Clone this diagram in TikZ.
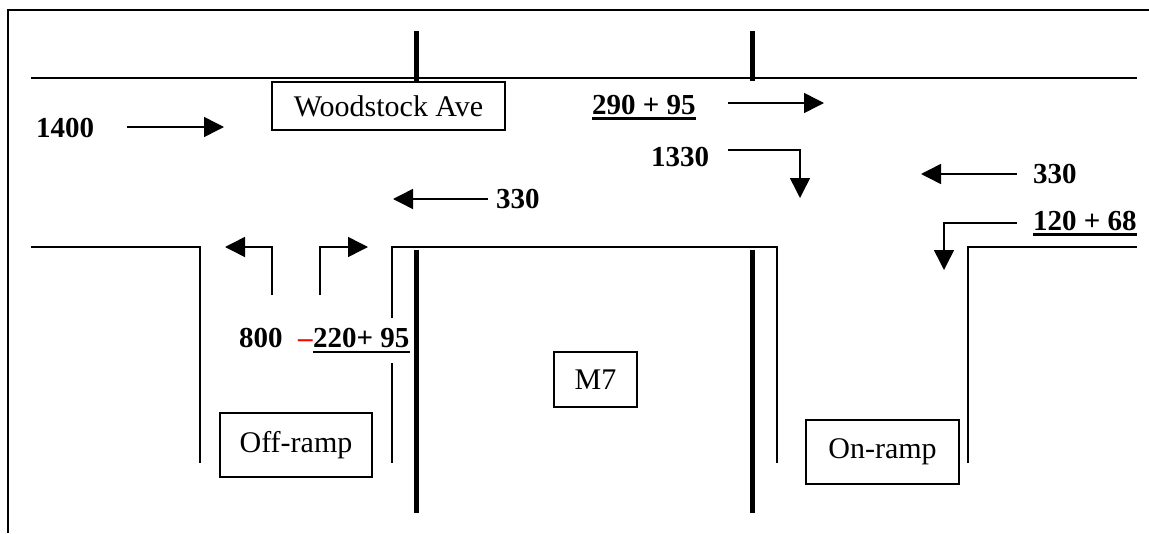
\documentclass[tikz,border=0pt]{standalone}
\usepackage{fontspec}
\setmainfont{Liberation Serif}
\usetikzlibrary{arrows.meta}
\begin{document}
\begin{tikzpicture}[x=1pt,y=-1pt,
  road/.style={line width=1.5pt},
  thick road/.style={line width=5pt},
  flow/.style={line width=1.5pt,-{Triangle[length=20pt,width=20pt]}},
  num/.style={font=\fontsize{29}{31}\selectfont\bfseries,inner sep=0pt,anchor=base west},
  label box/.style={draw,line width=1.5pt,font=\fontsize{30}{32}\selectfont,inner sep=0pt},
  uline/.style={line width=2.2pt}]
\useasboundingbox (0,0) rectangle (1149,533);
% frame
\draw[line width=2pt] (8,533) -- (8,9.5) -- (1149,9.5);
% roads
\draw[road] (31,78) -- (1137,78);
\draw[road] (31,247) -- (200,247) -- (200,463);
\draw[road] (392,318) -- (392,247) -- (777,247) -- (777,463);
\draw[road] (392,363) -- (392,463);
\draw[road] (968,463) -- (968,247) -- (1137,247);
\draw[thick road] (416,31) -- (416,81);
\draw[thick road] (752,31) -- (752,81);
\draw[thick road] (416,250) -- (416,513);
\draw[thick road] (752,250) -- (752,513);
% boxes
\node[label box,minimum width=233pt,minimum height=48pt] (wood) at (388.5,106) {Woodstock Ave};
\node[label box,minimum width=152pt,minimum height=64pt] (off) at (296,445) {Off-ramp};
\node[label box,minimum width=83pt,minimum height=55pt] (m7) at (595.5,379.5) {M7};
\node[label box,minimum width=153pt,minimum height=64pt] (on) at (882.5,452) {On-ramp};
% numbers
\node[num] (n1400) at (36,137) {1400};
\node[num] (n330l) at (496,208) {330};
\node[num] (n290) at (592,114) {290 + 95};
\node[num] (n1330) at (651,166) {1330};
\node[num] (n330r) at (1033,183) {330};
\node[num] (n120) at (1033,230) {120 + 68};
\node[num] (n800) at (239,347) {800};
\node[num,text=red] (dash) at (298,347) {–};
\node[num] (n220) at (313,347) {220+ 95};
% underlines
\draw[uline] ([yshift=-4.5pt]n290.base west) -- ([yshift=-4.5pt]n290.base east);
\draw[uline] ([yshift=-4.5pt]n120.base west) -- ([yshift=-4.5pt]n120.base east);
\draw[uline] ([yshift=-5pt]n220.base west) -- ([yshift=-5pt]n220.base east);
% flows
\draw[flow] (127,127) -- (224,127);
\draw[flow] (488,199) -- (393,199);
\draw[flow] (728,103) -- (824,103);
\draw[flow] (728,150) -- (800,150) -- (800,198);
\draw[flow] (1017,174) -- (921,174);
\draw[flow] (1017,223) -- (944,223) -- (944,270);
\draw[flow] (272,295) -- (272,247) -- (225,247);
\draw[flow] (320,295) -- (320,247) -- (368,247);
\end{tikzpicture}
\end{document}
